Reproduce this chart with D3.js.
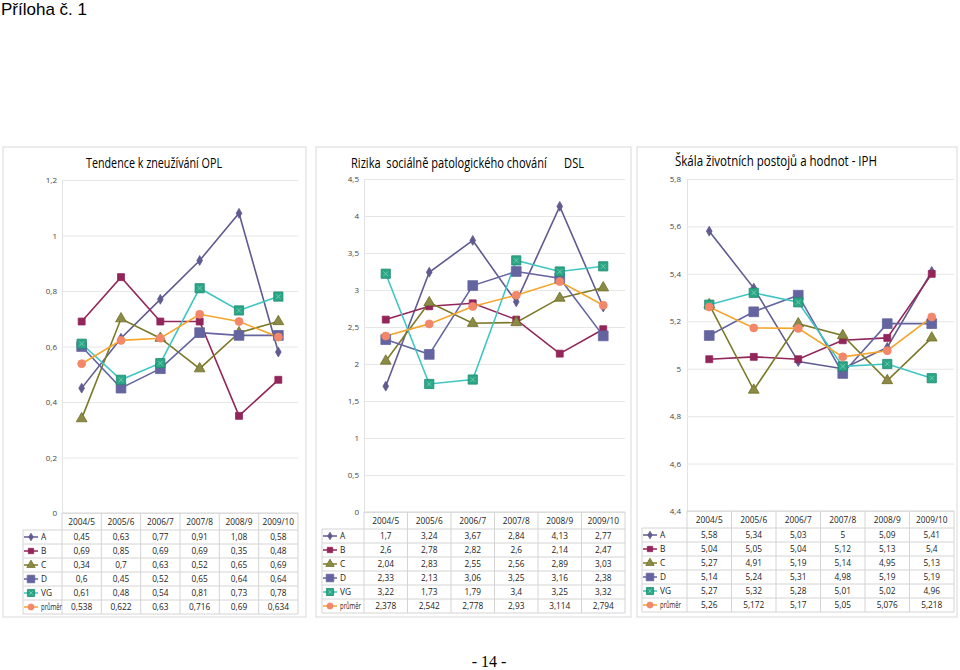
<!DOCTYPE html>
<html><head><meta charset="utf-8">
<script src="https://cdn.jsdelivr.net/npm/d3@7"></script>
<style>
html,body{margin:0;padding:0;background:#fff;}
svg{display:block;}
</style></head>
<body>
<script>
// ---------- DATA ----------
const categories = ["2004/5","2005/6","2006/7","2007/8","2008/9","2009/10"];
const seriesNames = ["A","B","C","D","VG","průměr"];

// Tendence k zneužívání OPL
const oplA  = [0.45,0.63,0.77,0.91,1.08,0.58];
const oplB  = [0.69,0.85,0.69,0.69,0.35,0.48];
const oplC  = [0.34,0.7,0.63,0.52,0.65,0.69];
const oplD  = [0.6,0.45,0.52,0.65,0.64,0.64];
const oplVG = [0.61,0.48,0.54,0.81,0.73,0.78];
const oplAvg= [0.538,0.622,0.63,0.716,0.69,0.634];
const oplTicks = [0,0.2,0.4,0.6,0.8,1,1.2];

// Rizika sociálně patologického chování DSL
const dslA  = [1.7,3.24,3.67,2.84,4.13,2.77];
const dslB  = [2.6,2.78,2.82,2.6,2.14,2.47];
const dslC  = [2.04,2.83,2.55,2.56,2.89,3.03];
const dslD  = [2.33,2.13,3.06,3.25,3.16,2.38];
const dslVG = [3.22,1.73,1.79,3.4,3.25,3.32];
const dslAvg= [2.378,2.542,2.778,2.93,3.114,2.794];
const dslTicks = [0,0.5,1,1.5,2,2.5,3,3.5,4,4.5];

// Škála životních postojů a hodnot - IPH
const iphA  = [5.58,5.34,5.03,5,5.09,5.41];
const iphB  = [5.04,5.05,5.04,5.12,5.13,5.4];
const iphC  = [5.27,4.91,5.19,5.14,4.95,5.13];
const iphD  = [5.14,5.24,5.31,4.98,5.19,5.19];
const iphVG = [5.27,5.32,5.28,5.01,5.02,4.96];
const iphAvg= [5.26,5.172,5.17,5.05,5.076,5.218];
const iphTicks = [4.4,4.6,4.8,5,5.2,5.4,5.6,5.8];

// ---------- STYLE ----------
const styles = [
  {line:"#5f5b90", fill:"#5f5b90", stroke:"#5f5b90", sym:d3.symbolDiamond, size:28},
  {line:"#922559", fill:"#922559", stroke:"#922559", sym:d3.symbolSquare, size:48},
  {line:"#7c7a28", fill:"#8b8a46", stroke:"#6f6e22", sym:d3.symbolTriangle, size:50},
  {line:"#6464a0", fill:"#6464a0", stroke:"#6464a0", sym:d3.symbolSquare, size:95},
  {line:"#3fc6c2", fill:"#2ba787", stroke:"#1f8c70", sym:d3.symbolSquare, size:85, glyph:true},
  {line:"#f5a52a", fill:"#f3876a", stroke:"#f3876a", sym:d3.symbolCircle, size:50}
];

const fmt = v => String(v).replace(".", ",");
const W = 960, H = 670;
const svg = d3.select("body").append("svg").attr("width",W).attr("height",H);
const FONT = "'Open Sans','Noto Sans',sans-serif";

svg.append("text").attr("x",1).attr("y",15).attr("font-family","'Liberation Sans',Arial,sans-serif")
  .attr("font-size",17).attr("fill","#000").text("Příloha č. 1");
svg.append("text").attr("x",489).attr("y",667).attr("text-anchor","middle")
  .attr("font-family","'Liberation Serif','Times New Roman',serif").attr("font-size",16)
  .attr("fill","#000").text("- 14 -");

function marker(g, st, x, y, scale) {
  const s = scale || 1;
  g.append("path").attr("d", d3.symbol().type(st.sym).size(st.size*s)())
    .attr("transform", `translate(${x},${y})`)
    .attr("fill", st.fill).attr("stroke", st.stroke).attr("stroke-width", 0.8);
  if (st.glyph) {
    const r = 2.2*Math.sqrt(s);
    g.append("path").attr("d", `M${x-r},${y-r}L${x+r},${y+r}M${x+r},${y-r}L${x-r},${y+r}`)
      .attr("stroke","#8fe0c0").attr("stroke-width",0.8).attr("opacity",0.8);
  }
}

function panel(cfg) {
  const g = svg.append("g");
  g.append("rect").attr("x",cfg.box[0]).attr("y",cfg.box[1]).attr("width",cfg.box[2]).attr("height",cfg.box[3])
    .attr("fill","#fff").attr("stroke","#d9d9d9").attr("stroke-width",1);

  const x = d3.scalePoint().domain(categories).range([cfg.left, cfg.right]).padding(0.5);
  const y = d3.scaleLinear().domain([cfg.ticks[0], cfg.ticks[cfg.ticks.length-1]]).range([cfg.bottom, cfg.top]);

  const ax = d3.axisLeft(y).tickValues(cfg.ticks).tickFormat(fmt)
    .tickSizeInner(-(cfg.right-cfg.left)).tickSizeOuter(0).tickPadding(cfg.left-cfg.labelX);
  const axg = g.append("g").attr("transform",`translate(${cfg.left},0)`).call(ax);
  axg.select(".domain").attr("stroke","#e3e3e3");
  axg.selectAll(".tick line").attr("stroke","#e6e6e6").attr("stroke-width",1);
  axg.selectAll(".tick text").attr("font-family",FONT).attr("font-size",8).attr("fill","#444");

  g.append("text").attr("x",cfg.titleX).attr("y",cfg.titleY).attr("text-anchor",cfg.titleAnchor)
    .attr("font-family",FONT).attr("font-size",14.5).attr("fill","#000")
    .style("white-space","pre")
    .attr("textLength",cfg.titleLen).attr("lengthAdjust","spacingAndGlyphs")
    .text(cfg.title);

  const line = d3.line().x((d,i)=>x(categories[i])).y(d=>y(d));
  cfg.series.forEach((vals,si)=>{
    const st = styles[si];
    g.append("path").datum(vals).attr("d",line).attr("fill","none")
      .attr("stroke",st.line).attr("stroke-width",1.6);
  });
  cfg.series.forEach((vals,si)=>{
    const st = styles[si];
    vals.forEach((v,i)=>marker(g, st, x(categories[i]), y(v)));
  });

  const step = x.step();
  const tTop = cfg.bottom, hdrH = 17, rowH = 14;
  const tBot = tTop + hdrH + rowH*seriesNames.length;
  const tg = g.append("g");
  const lc = "#d4d4d4";
  tg.append("line").attr("x1",cfg.left).attr("x2",cfg.right).attr("y1",tTop).attr("y2",tTop).attr("stroke",lc);
  for (let r=0;r<=seriesNames.length;r++){
    const yy = tTop+hdrH+rowH*r;
    tg.append("line").attr("x1",cfg.legendLeft).attr("x2",cfg.right).attr("y1",yy).attr("y2",yy).attr("stroke",lc);
  }
  categories.forEach((c,i)=>{
    const xx = cfg.left + step*i;
    tg.append("line").attr("x1",xx).attr("x2",xx).attr("y1",tTop).attr("y2",tBot).attr("stroke",lc);
  });
  tg.append("line").attr("x1",cfg.right).attr("x2",cfg.right).attr("y1",tTop).attr("y2",tBot).attr("stroke",lc);
  tg.append("line").attr("x1",cfg.legendLeft).attr("x2",cfg.legendLeft).attr("y1",tTop+hdrH).attr("y2",tBot).attr("stroke",lc);

  categories.forEach(c=>{
    tg.append("text").attr("x",x(c)).attr("y",tTop+hdrH/2+3).attr("text-anchor","middle")
      .attr("font-family",FONT).attr("font-size",8.3).attr("fill","#222").text(c);
  });
  cfg.series.forEach((vals,si)=>{
    const st = styles[si];
    const cy = tTop+hdrH+rowH*si+rowH/2;
    const lx = cfg.legendLeft+1;
    tg.append("line").attr("x1",lx).attr("x2",lx+14).attr("y1",cy).attr("y2",cy)
      .attr("stroke",st.line).attr("stroke-width",1.5);
    marker(tg, st, lx+7, cy, 0.6);
    const lab = tg.append("text").attr("x",lx+17).attr("y",cy+3).attr("font-family",FONT).attr("font-size",8.3)
      .attr("fill","#222").text(seriesNames[si]);
    if (seriesNames[si].length > 3) lab.attr("textLength",21).attr("lengthAdjust","spacingAndGlyphs");
    vals.forEach((v,i)=>{
      tg.append("text").attr("x",x(categories[i])).attr("y",cy+3).attr("text-anchor","middle")
        .attr("font-family",FONT).attr("font-size",8.3).attr("fill","#222").text(fmt(v));
    });
  });
}

panel({box:[3,147,303,470], left:62, right:298, top:180, bottom:513, labelX:57,
  ticks:oplTicks, legendLeft:23,
  title:"Tendence k zneužívání OPL", titleX:154, titleY:168, titleAnchor:"middle", titleLen:136,
  series:[oplA,oplB,oplC,oplD,oplVG,oplAvg]});

panel({box:[316,147,315,470], left:364, right:625, top:179, bottom:512, labelX:359,
  ticks:dslTicks, legendLeft:322,
  title:"Rizika  sociálně patologického chování      DSL", titleX:351, titleY:168, titleAnchor:"start", titleLen:233,
  series:[dslA,dslB,dslC,dslD,dslVG,dslAvg]});

panel({box:[637,147,320,470], left:687, right:954, top:179, bottom:511, labelX:681,
  ticks:iphTicks, legendLeft:642,
  title:"Škála životních postojů a hodnot - IPH", titleX:675, titleY:166, titleAnchor:"start", titleLen:202,
  series:[iphA,iphB,iphC,iphD,iphVG,iphAvg]});
</script>
</body></html>
